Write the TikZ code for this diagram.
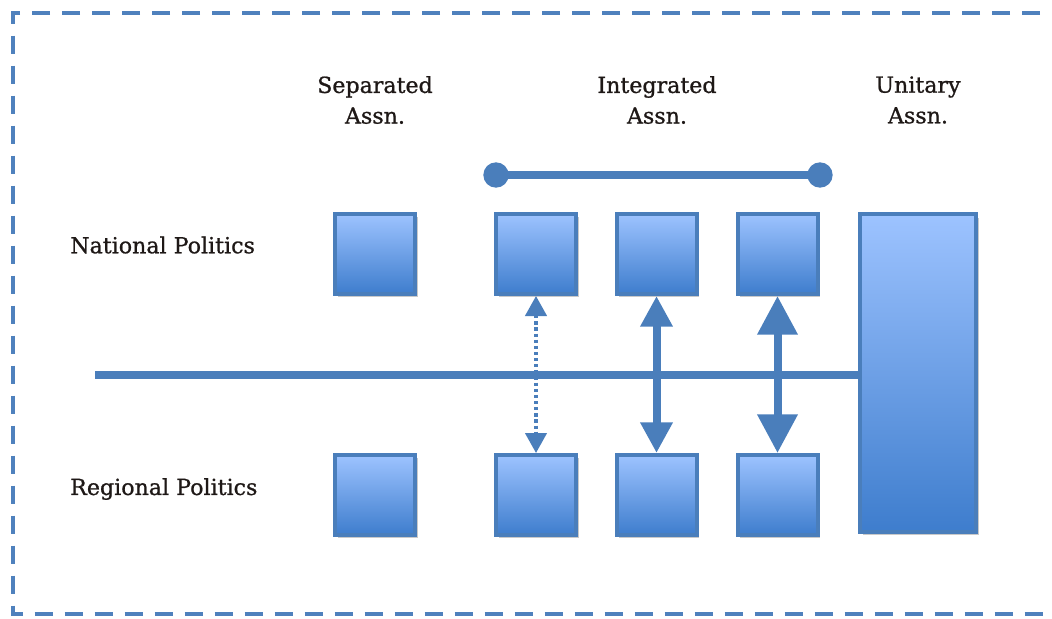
\documentclass[tikz,border=0pt]{standalone}
\usepackage{fontspec}
\setmainfont{DejaVu Serif}[FakeBold=0.9]
\usetikzlibrary{arrows.meta,shadows}

\definecolor{frameblue}{RGB}{79,129,189}
\definecolor{edgeblue}{RGB}{74,126,187}
\definecolor{filltop}{RGB}{157,195,255}
\definecolor{fillbot}{RGB}{62,125,205}
\definecolor{inkdark}{RGB}{30,24,22}

\tikzset{
  softshadow/.style={drop shadow={shadow xshift=2pt,shadow yshift=-2.5pt,opacity=0.3,fill=black!70}},
  polbox/.style={draw=edgeblue,line width=3pt,inner sep=0pt,
    top color=filltop,bottom color=fillbot,softshadow,
    minimum width=60pt,minimum height=60pt},
  bigbox/.style={polbox,minimum width=87pt,minimum height=238pt},
  label/.style={font=\fontsize{16.6}{23}\selectfont,text=inkdark,inner sep=0pt},
  colhead/.style={label,align=center},
  rowhead/.style={label,anchor=west},
  bluerule/.style={draw=edgeblue,line width=6pt},
  tieline/.style={draw=edgeblue,line width=5.5pt},
  weaklink/.style={draw=edgeblue,line width=2.4pt,dash pattern=on 2.4pt off 2.2pt,
    {Triangle[width=16pt,length=15pt]}-{Triangle[width=16pt,length=15pt]}},
  midlink/.style={draw=edgeblue,line width=6pt,
    {Triangle[width=23pt,length=23pt]}-{Triangle[width=23pt,length=23pt]}},
  stronglink/.style={draw=edgeblue,line width=6pt,
    {Triangle[width=29pt,length=29pt]}-{Triangle[width=29pt,length=29pt]}},
  outerframe/.style={draw=frameblue,line width=3pt,dash pattern=on 13.5pt off 9pt},
}

\begin{document}
\begin{tikzpicture}[x=0.75pt,y=-0.75pt]
  \useasboundingbox (0,0) rectangle (1052,618);

  % dashed outer frame, open on the right
  \begin{scope}
    \clip (0,0) rectangle (1052,618);
    \draw[outerframe] (1070,12.5) -- (13,12.5) -- (13,614) -- (1070,614);
  \end{scope}

  % column headings
  \node[colhead] (hsep) at (375,100) {Separated\\Assn.};
  \node[colhead] (hint) at (657,100) {Integrated\\Assn.};
  \node[colhead] (huni) at (918,100) {Unitary\\Assn.};

  % row headings
  \node[rowhead] (hnat) at (70,245) {National Politics};
  \node[rowhead] (hreg) at (70,489) {Regional Politics};

  % national level
  \node[polbox] (n1) at (375,254) {};
  \node[polbox] (n2) at (536,254) {};
  \node[polbox] (n3) at (656.5,254) {};
  \node[polbox] (n4) at (777.5,254) {};

  % regional level
  \node[polbox] (r1) at (375,495) {};
  \node[polbox] (r2) at (536,495) {};
  \node[polbox] (r3) at (656.5,495) {};
  \node[polbox] (r4) at (777.5,495) {};

  % unitary block
  \node[bigbox] (uni) at (918,373) {};

  % dividing rule between the two levels
  \coordinate (ruleL) at (95,375);
  \draw[bluerule] (ruleL) -- (ruleL -| uni.west);

  % bracket over the integrated columns
  \coordinate (tieL) at (496,175);
  \coordinate (tieR) at (820,175);
  \draw[tieline] (tieL) -- (tieR);
  \fill[edgeblue] (tieL) circle (9.5pt);
  \fill[edgeblue] (tieR) circle (9.5pt);

  % links between levels
  \draw[weaklink] (n2.south) -- (r2.north);
  \draw[midlink] (n3.south) -- (r3.north);
  \draw[stronglink] (n4.south) -- (r4.north);
\end{tikzpicture}
\end{document}
